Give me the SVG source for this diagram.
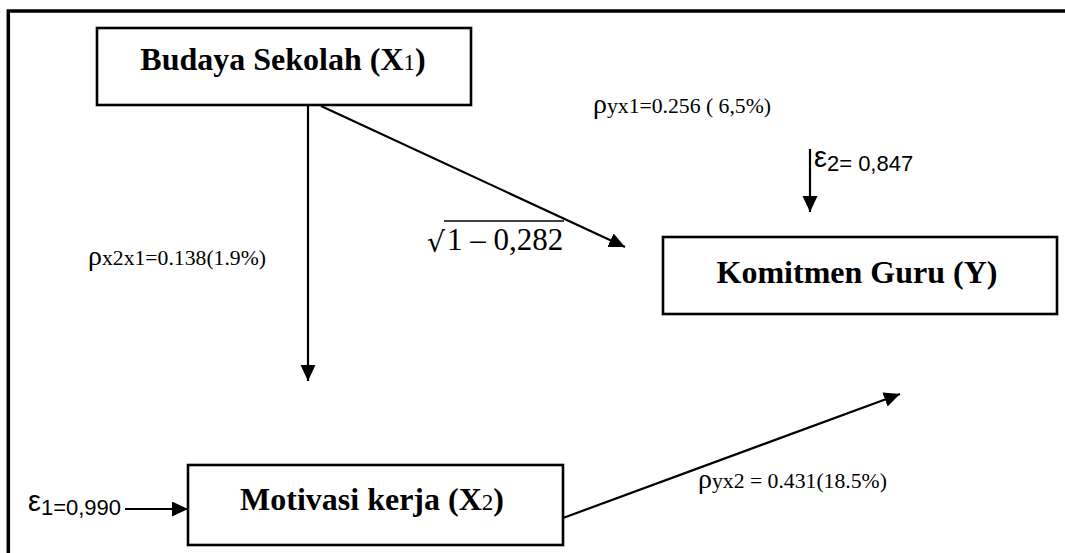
<svg xmlns="http://www.w3.org/2000/svg" width="1065" height="553" viewBox="0 0 1065 553">
<defs>
<style>
.box{fill:#fff;stroke:#000;stroke-width:2.6}
.title{font-family:'Liberation Serif','Times New Roman',serif;font-weight:bold;font-size:32px;fill:#000}
.sub{font-weight:normal;font-size:23px}
.rho{font-family:'Liberation Serif','Times New Roman',serif;font-size:28px;fill:#000}
.lbl{font-size:21.7px}
.eps{font-family:'Liberation Sans',Arial,sans-serif;font-size:29px;fill:#000}
.epsv{font-size:22px}
.math{font-family:'Liberation Serif','Times New Roman',serif;font-size:31px;fill:#000}
.rad{font-family:'DejaVu Serif','Liberation Serif',serif;font-size:28px;fill:#000}
.conn{stroke:#000;stroke-width:2.2;fill:none}
</style>
<marker id="ah" markerUnits="userSpaceOnUse" markerWidth="17" markerHeight="16" refX="16" refY="7.5" orient="auto" viewBox="0 0 17 16">
<path d="M0,0 L16,7.5 L0,15 Z" fill="#000"/>
</marker>
</defs>
<rect x="0" y="0" width="1065" height="553" fill="#fff"/>
<path d="M8.3,560 V11 H1070" fill="none" stroke="#000" stroke-width="3.5"/>

<g id="connectors">
<line class="conn" x1="308" y1="105" x2="308" y2="381" marker-end="url(#ah)"/>
<line class="conn" x1="321" y1="106" x2="625" y2="247" marker-end="url(#ah)"/>
<line class="conn" x1="563" y1="518" x2="900" y2="394" marker-end="url(#ah)"/>
<line class="conn" x1="810" y1="149" x2="810" y2="212" marker-end="url(#ah)"/>
<line class="conn" x1="125" y1="509" x2="188" y2="509" marker-end="url(#ah)"/>
</g>

<g id="budaya">
<rect class="box" x="97" y="28" width="374" height="77"/>
<text class="title" x="283" y="70" text-anchor="middle">Budaya Sekolah (X<tspan class="sub">1</tspan>)</text>
</g>

<g id="komitmen">
<rect class="box" x="663" y="237" width="394" height="77"/>
<text class="title" x="857" y="283" text-anchor="middle">Komitmen Guru (Y)</text>
</g>

<g id="motivasi">
<rect class="box" x="188" y="465" width="375" height="80"/>
<text class="title" x="372" y="510" text-anchor="middle">Motivasi kerja (X<tspan class="sub">2</tspan>)</text>
</g>

<g id="labels">
<text class="rho" x="88" y="265">ρ<tspan class="lbl">x2x1=0.138(1.9%)</tspan></text>
<text class="rho" x="593" y="113">ρ<tspan class="lbl">yx1=0.256 ( 6,5%)</tspan></text>
<text class="rho" x="698" y="488">ρ<tspan class="lbl">yx2 = 0.431(18.5%)</tspan></text>
<text class="rad" x="427" y="252">√</text>
<text class="math" x="447" y="250">1 – 0,282</text>
<line x1="444" y1="221" x2="564" y2="221" stroke="#000" stroke-width="1.3"/>
<text class="eps" x="814" y="167">ε<tspan class="epsv" dy="4">2= 0,847</tspan></text>
<text class="eps" x="28" y="511">ε<tspan class="epsv" dy="4">1=0,990</tspan></text>
</g>
</svg>
